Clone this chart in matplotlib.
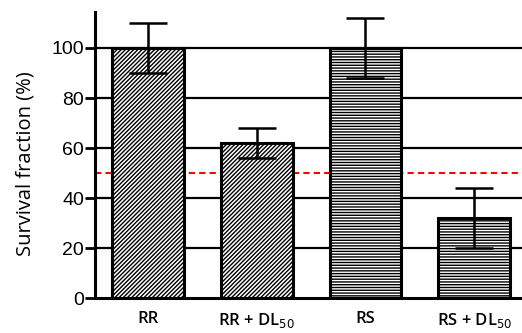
import matplotlib.pyplot as plt

# Data
groups = ["RR", "RR + DL$_{50}$", "RS", "RS + DL$_{50}$"]
survival = [100, 62, 100, 32]
errors = [10, 6, 12, 12]
hatches = ["/" * 8, "/" * 8, "-" * 6, "-" * 6]
yticks = [0, 20, 40, 60, 80, 100]

plt.rcParams['hatch.color'] = '#7a7a7a'
plt.rcParams['hatch.linewidth'] = 1.0

fig = plt.figure(figsize=(5.22, 3.33), dpi=100)
ax = fig.add_axes([0.182, 0.105, 0.818, 0.859])

x = range(len(groups))
for v in yticks[1:]:
    ax.axhline(v, color='k', lw=1.6, zorder=1)
ax.axhline(50, color='red', lw=1.5, ls=(0, (3, 2)), zorder=1)

ax.bar(x, survival, width=0.66, color='white', edgecolor='k', linewidth=2.2,
       hatch=hatches, zorder=2)
ax.errorbar(x, survival, yerr=errors, fmt='none', ecolor='k', elinewidth=1.8,
            capsize=14, capthick=1.8, zorder=3)

ax.set_xlim(-0.488, 3.44)
ax.set_ylim(0, 114.4)
ax.set_yticks(yticks)
ax.set_xticks(list(x))
ax.set_xticklabels(groups, fontsize=12, family='Open Sans', weight='semibold')
ax.tick_params(axis='x', length=0, pad=9.5)
ax.tick_params(axis='y', direction='out', length=7, width=2, labelsize=14, pad=1)
for lbl in ax.get_yticklabels():
    lbl.set_family('Liberation Sans')
ax.spines['top'].set_visible(False)
ax.spines['right'].set_visible(False)
ax.spines['left'].set_linewidth(2.2)
ax.spines['bottom'].set_linewidth(2.2)
ax.set_ylabel("Survival fraction (%)", fontsize=14.5, family='Open Sans')
ax.yaxis.set_label_coords(-0.14, 0.469)

fig.savefig("out.png", dpi=100)
